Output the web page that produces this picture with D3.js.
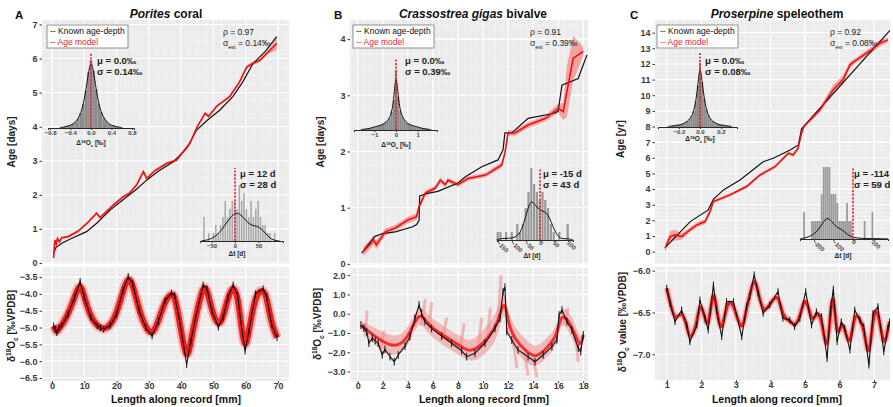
<!DOCTYPE html>
<html>
<head>
<meta charset="utf-8">
<script src="https://cdn.jsdelivr.net/npm/d3@7"></script>
<style>
  body { margin: 0; background: #fff; }
  svg { font-family: "Liberation Sans", Arial, sans-serif; }
</style>
</head>
<body>
<div id="app"></div>
<script>
'use strict'

// ---- Panel A: Porites coral ----
const aKnown = [[0.5,0.28],[1.2,0.45],[3,0.58],[6,0.72],[10.7,0.92],[14,1.18],[18,1.55],[22.6,1.9],[26,2.15],[29.3,2.43],[33,2.7],[37.6,2.97],[41.7,3.36],[44.8,3.9],[48,4.18],[52,4.49],[56,4.88],[59,5.3],[62.3,5.86],[66,6.2],[69.6,6.64]]
const aModel = [[0.5,0.15,0.1],[0.7,0.45,0.1],[0.9,0.67,0.08],[1.3,0.55,0.06],[1.7,0.72,0.05],[2.3,0.62,0.05],[3,0.74,0.04],[5,0.77,0.04],[8,0.93,0.04],[11,1.18,0.04],[13.8,1.46,0.04],[14.9,1.33,0.04],[17,1.52,0.04],[19,1.7,0.04],[22,1.94,0.04],[24,2.05,0.04],[26.2,2.29,0.04],[28.3,2.68,0.04],[29.3,2.48,0.04],[32,2.72,0.04],[35.5,2.92,0.04],[38.6,3.02,0.04],[42.7,3.51,0.04],[45,4.0,0.04],[47.4,4.39,0.05],[48.5,4.3,0.05],[51,4.6,0.04],[55,4.88,0.04],[58,5.3,0.04],[60.3,5.75,0.05],[62,5.85,0.05],[64.4,5.95,0.05],[67,6.2,0.06],[69.6,6.44,0.2]]
const aD18O = [[0.5,-4.95],[1,-5.05],[1.5,-5.15],[2.2,-5.0],[3,-4.95],[5,-4.6],[7,-4.1],[8.7,-3.63],[10,-4.1],[12,-4.7],[14,-4.95],[15,-5.0],[16,-5.05],[18,-4.95],[20,-4.6],[22,-3.9],[23.6,-3.48],[25,-3.7],[27,-4.5],[29,-5.0],[31,-5.25],[33,-4.8],[35,-4.2],[37,-3.98],[38,-4.05],[39.5,-4.8],[41.7,-6.1],[43,-5.4],[44.5,-4.7],[46.8,-3.73],[48,-3.85],[49.5,-4.5],[51.5,-4.99],[53,-4.7],[54.5,-4.1],[56.1,-3.73],[57.5,-4.05],[58.7,-5.0],[59.8,-5.7],[61,-5.1],[63,-4.0],[65.4,-3.85],[66.5,-4.1],[68,-4.9],[69.7,-5.3]]
const aResid = [[-0.6,1],[-0.55,1],[-0.5,2],[-0.45,3],[-0.4,4],[-0.35,6],[-0.3,9],[-0.25,14],[-0.2,22],[-0.15,35],[-0.1,55],[-0.05,82],[0,100],[0.05,84],[0.1,57],[0.15,36],[0.2,23],[0.25,15],[0.3,10],[0.35,6],[0.4,4],[0.45,3],[0.5,2],[0.55,1],[0.6,1]]
const aDt = [[-65,3],[-55,1],[-45,1],[-40,2],[-35,1],[-30,2],[-25,3],[-20,5],[-15,3],[-10,4],[-5,5],[0,5],[5,4],[10,7],[15,5],[20,6],[25,4],[30,3],[35,5],[40,3],[45,4],[50,5],[55,3],[60,2],[65,2],[70,1],[75,1],[85,1]]
const aDtDens = [[-72,0],[-60,0.1],[-45,0.4],[-30,1.2],[-15,2.6],[0,3.6],[10,3.4],[20,2.8],[30,2.1],[40,1.9],[50,1.8],[60,1.3],[70,0.6],[80,0.1],[95,0]]

// ---- Panel B: Crassostrea gigas bivalve ----
const bKnown = [[0.32,0.19],[0.8,0.33],[1.38,0.49],[2,0.54],[3,0.57],[4.4,0.66],[4.7,0.7],[4.9,0.77],[4.95,1.21],[5.5,1.25],[6.4,1.29],[8,1.44],[8.6,1.55],[9.9,1.73],[11.2,1.85],[11.6,2.03],[11.75,2.33],[12.3,2.33],[13.6,2.59],[15.7,2.68],[16.0,2.72],[16.3,3.18],[17.6,3.3],[17.9,3.48],[18.3,3.72]]
const bModel = [[0.45,0.22,0.08],[1.0,0.35,0.08],[1.25,0.43,0.08],[1.5,0.34,0.08],[2.2,0.57,0.06],[3,0.64,0.05],[4,0.78,0.06],[4.7,0.84,0.06],[4.9,1.02,0.05],[5.4,1.26,0.05],[6.2,1.35,0.04],[6.6,1.49,0.05],[7,1.41,0.04],[7.2,1.49,0.04],[8,1.41,0.04],[8.8,1.52,0.04],[10.2,1.58,0.04],[11.5,1.76,0.05],[11.75,1.97,0.05],[12,2.33,0.05],[12.55,2.33,0.05],[13.6,2.47,0.05],[15,2.59,0.05],[16,2.77,0.08],[16.4,2.71,0.15],[16.7,3.07,0.45],[17.2,3.66,0.4],[18,3.78,0.08]]
const bD18O = [[0.26,-0.59],[0.5,-0.75],[0.72,-0.93],[0.9,-1.53],[1.17,-1.27],[1.4,-1.4],[1.64,-1.53],[1.96,-2.14],[2.18,-1.85],[2.58,-2.23],[2.92,-2.49],[3.24,-2.14],[3.78,-1.67],[4.17,-1.19],[4.57,-0.24],[4.9,0.45],[5.1,0.02],[5.37,-0.41],[5.9,-0.76],[6.7,-1.16],[7.5,-1.53],[8.3,-1.92],[8.7,-2.23],[9.36,-2.05],[10.16,-1.53],[10.96,-0.76],[11.36,-0.24],[11.6,1.14],[11.75,1.37],[11.9,-0.93],[12.3,-1.36],[12.8,-1.88],[13.6,-2.23],[14.15,-2.49],[14.8,-2.14],[15.5,-1.71],[15.9,-1.36],[16.07,-0.07],[16.3,0.19],[16.7,-0.41],[17.1,-0.84],[17.6,-1.79],[17.8,-1.97],[18.0,-1.1]]
const bModelD18O = [[0.3,-0.6,0.2],[1,-1.0,0.4],[2,-1.45,0.5],[3,-1.75,0.5],[4,-1.35,0.5],[4.9,0.2,0.4],[5.5,-0.5,0.5],[6.5,-1.0,0.5],[8,-1.6,0.5],[8.8,-1.95,0.5],[9.5,-1.85,0.6],[10.5,-1.2,0.7],[11.2,-0.5,0.7],[11.7,0.9,0.5],[12,-0.5,0.6],[12.5,-1.3,0.6],[13.5,-2.0,0.6],[14.2,-2.3,0.5],[15,-1.85,0.5],[15.9,-1.2,0.5],[16.2,0.0,0.4],[16.8,-0.3,0.5],[17.3,-1.0,0.6],[17.8,-1.8,0.4],[18,-1.1,0.2]]
const bStreaks = [[0.6,-1.2,0.75,0.15],[1.8,-1.9,2.1,-0.9],[5.1,-0.6,5.4,0.75],[5.7,-0.8,5.9,0.6],[6.8,-1.3,7.1,-0.2],[8.2,-1.8,8.5,-0.5],[9.6,-1.9,9.9,-0.2],[10.3,-1.5,10.6,0.3],[11.2,-0.3,11.45,2.0],[12.4,-1.3,12.7,-2.8],[13.3,-2.0,13.6,-3.2],[14.0,-2.3,14.3,-3.3],[16.5,-0.5,16.8,0.3],[17.4,-1.2,17.6,-2.5]]
const bResid = [[-1.6,1],[-1.5,1],[-1.4,2],[-1.3,2],[-1.2,3],[-1.1,4],[-1.0,5],[-0.9,6],[-0.8,7],[-0.7,8],[-0.6,10],[-0.5,12],[-0.4,15],[-0.3,20],[-0.2,30],[-0.1,50],[0,100],[0.1,55],[0.2,32],[0.3,22],[0.4,16],[0.5,12],[0.6,10],[0.7,8],[0.8,7],[0.9,6],[1.0,5],[1.1,4],[1.2,3],[1.3,2],[1.4,2],[1.5,1],[1.6,1]]
const bDt = [[-150,1],[-140,1],[-120,1],[-100,1],[-80,2],[-70,1],[-60,2],[-50,4],[-40,6],[-30,9],[-20,7],[-10,6],[0,5],[10,6],[20,5],[30,4],[40,2],[50,1],[70,1],[100,2]]
const bDtDens = [[-155,0],[-140,0.2],[-110,0.2],[-90,0.3],[-70,0.8],[-55,2.5],[-40,4.3],[-29,5.0],[-15,4.2],[0,3.8],[15,3.5],[28,3.3],[45,1.8],[60,0.6],[77,0.1],[100,0.2],[118,0]]

// ---- Panel C: Proserpine speleothem ----
const cKnown = [[0.98,0.32],[1.31,1.07],[1.68,1.92],[2.2,2.67],[2.35,3.35],[2.64,3.95],[3.12,4.58],[3.79,5.75],[4.08,5.97],[4.57,6.5],[4.81,6.82],[4.9,7.85],[7.46,14.15]]
const cModel = [[0.95,0.22,0.2],[1.1,0.96,0.35],[1.24,1.07,0.35],[1.43,0.96,0.2],[1.67,1.39,0.15],[1.87,1.71,0.15],[2.11,1.92,0.15],[2.25,2.56,0.15],[2.35,3.2,0.1],[2.83,3.63,0.1],[3.31,4.16,0.1],[3.7,4.9,0.1],[4.13,5.43,0.1],[4.52,6.29,0.1],[4.66,6.18,0.1],[4.8,6.61,0.1],[4.9,7.57,0.1],[4.97,8.0,0.1],[5.43,9.06,0.15],[5.81,10.34,0.3],[6.1,10.98,0.3],[6.3,11.94,0.2],[6.49,12.26,0.15],[6.92,12.9,0.2],[7.16,13.32,0.2],[7.4,13.54,0.15]]
const cD18O = [[1.0,-6.21],[1.1,-6.39],[1.24,-6.61],[1.43,-6.47],[1.58,-6.65],[1.67,-6.85],[1.87,-6.65],[1.96,-6.35],[2.11,-6.57],[2.2,-6.71],[2.35,-6.17],[2.44,-6.47],[2.59,-6.79],[2.73,-6.37],[2.93,-6.37],[3.17,-6.79],[3.31,-6.43],[3.4,-6.31],[3.53,-6.05],[3.65,-6.27],[3.79,-6.51],[3.98,-6.41],[4.22,-6.25],[4.36,-6.57],[4.56,-6.59],[4.7,-6.67],[4.85,-6.57],[5.02,-6.25],[5.19,-6.65],[5.33,-6.49],[5.48,-6.55],[5.64,-7.05],[5.74,-6.47],[5.82,-6.22],[5.93,-6.85],[6.05,-6.61],[6.15,-6.69],[6.3,-6.95],[6.44,-6.47],[6.59,-6.59],[6.7,-6.67],[6.85,-7.13],[6.97,-6.51],[7.11,-6.43],[7.28,-6.97],[7.4,-6.69],[7.45,-6.61]]
const cResid = [[-0.3,1],[-0.28,1],[-0.26,2],[-0.24,2],[-0.22,3],[-0.2,3],[-0.18,4],[-0.16,5],[-0.14,7],[-0.12,9],[-0.1,12],[-0.08,17],[-0.06,25],[-0.04,40],[-0.02,65],[0,100],[0.02,70],[0.04,45],[0.06,28],[0.08,18],[0.1,12],[0.12,9],[0.14,7],[0.16,5],[0.18,4],[0.2,3],[0.22,3],[0.24,2],[0.26,2],[0.28,1],[0.3,1]]
const cDt = [[-250,3],[-210,2],[-200,2],[-190,2],[-180,2],[-170,2],[-160,5],[-150,8],[-140,8],[-130,8],[-120,8],[-110,5],[-100,5],[-90,5],[-80,4],[-70,2],[-60,2],[-50,2],[-40,2],[-30,4],[-20,2],[-10,2],[60,2],[100,3]]
const cDtDens = [[-272,0],[-250,0.1],[-212,0.35],[-180,0.9],[-155,1.8],[-133,2.45],[-110,2.0],[-85,1.3],[-58,1.1],[-30,0.5],[0,0.15],[50,0.05],[100,0.05],[180,0]]

// tick labels
const aXTicks = [0, 10, 20, 30, 40, 50, 60, 70]
const bXTicks = [0, 2, 4, 6, 8, 10, 12, 14, 16, 18]
const cXTicks = [1, 2, 3, 4, 5, 6, 7]
const aAgeTicks = [0, 1, 2, 3, 4, 5, 6, 7]
const bAgeTicks = [0, 1, 2, 3, 4]
const cAgeTicks = d3.range(0, 15)
const aD18OTicks = [-3.5, -4.0, -4.5, -5.0, -5.5, -6.0, -6.5]
const bD18OTicks = [2, 1, 0, -1, -2, -3]
const cD18OTicks = [-6.0, -6.5, -7.0]

const svg = d3.select('#app').append('svg')
  .attr('width', 893)
  .attr('height', 407)
const defs = svg.append('defs')
let clipCount = 0

const RED = '#ee1111'
const PINK = '#f58a8a'

/*
 * Gray ggplot-like panel with white grid, y axis and optional x axis.
 * Returns a clipped group for the marks.
 */
function frame (x, y, xTicks, yTicks, yFmt, showX) {
  const [x0, x1] = x.range()
  const [yb, yt] = y.range()
  svg.append('rect')
    .attr('x', x0).attr('y', yt)
    .attr('width', x1 - x0).attr('height', yb - yt)
    .attr('fill', '#ebebeb')

  const grid = svg.append('g')
  const xs = xTicks[1] - xTicks[0]
  const ys = Math.abs(yTicks[1] - yTicks[0])
  const xDom = x.domain(), yDom = y.domain()
  const xMinor = d3.range(xTicks[0] - xs, xTicks[xTicks.length - 1] + xs, xs / 4)
    .filter(v => v > xDom[0] && v < xDom[1])
  const yMin = Math.min(...yTicks), yMax = Math.max(...yTicks)
  const yMinor = d3.range(yMin - ys, yMax + ys, ys / 4)
    .filter(v => v > yDom[0] && v < yDom[1])
  grid.selectAll('.xm').data(xMinor).enter().append('line')
    .attr('x1', d => x(d)).attr('x2', d => x(d)).attr('y1', yt).attr('y2', yb)
    .attr('stroke', '#fff').attr('stroke-width', 0.5).attr('opacity', 0.8)
  grid.selectAll('.ym').data(yMinor).enter().append('line')
    .attr('y1', d => y(d)).attr('y2', d => y(d)).attr('x1', x0).attr('x2', x1)
    .attr('stroke', '#fff').attr('stroke-width', 0.5).attr('opacity', 0.8)
  grid.selectAll('.xM').data(xTicks).enter().append('line')
    .attr('x1', d => x(d)).attr('x2', d => x(d)).attr('y1', yt).attr('y2', yb)
    .attr('stroke', '#fff').attr('stroke-width', 1.1)
  grid.selectAll('.yM').data(yTicks).enter().append('line')
    .attr('y1', d => y(d)).attr('y2', d => y(d)).attr('x1', x0).attr('x2', x1)
    .attr('stroke', '#fff').attr('stroke-width', 1.1)

  const ya = svg.append('g')
    .attr('transform', `translate(${x0},0)`)
    .call(d3.axisLeft(y).tickValues(yTicks).tickSize(2.5).tickPadding(2).tickFormat(yFmt))
  styleAxis(ya, 9)

  if (showX) {
    const xa = svg.append('g')
      .attr('transform', `translate(0,${yb})`)
      .call(d3.axisBottom(x).tickValues(xTicks).tickSize(2).tickPadding(0).tickFormat(d3.format('d')))
    styleAxis(xa, 9)
  }

  const id = 'clip' + (clipCount++)
  defs.append('clipPath').attr('id', id).append('rect')
    .attr('x', x0).attr('y', yt).attr('width', x1 - x0).attr('height', yb - yt)
  return svg.append('g').attr('clip-path', `url(#${id})`)
}

function styleAxis (g, size) {
  g.select('.domain').remove()
  g.selectAll('.tick line').attr('stroke', '#333')
  g.selectAll('.tick text')
    .attr('fill', '#3a3a3a')
    .style('font-size', size + 'px')
    .style('font-weight', 'bold')
    .style('font-family', '"Liberation Sans", Arial, sans-serif')
}

// text helper with super/subscripts: parts = [[text, shift]] shift: 0 normal, 1 sup, -1 sub
function richText (parent, x, y, parts, opts) {
  const t = parent.append('text')
    .attr('x', x).attr('y', y)
    .attr('font-size', opts.size)
    .attr('font-weight', opts.weight || 'bold')
    .attr('fill', opts.fill || '#222')
    .attr('text-anchor', opts.anchor || 'start')
  if (opts.rotate) t.attr('transform', `rotate(-90,${x},${y})`)
  let cur = 0
  parts.forEach(([s, k, style]) => {
    const target = k === 1 ? -opts.size * 0.38 : k === -1 ? opts.size * 0.3 : 0
    const sp = t.append('tspan').text(s).attr('dy', target - cur)
    if (k !== 0) sp.attr('font-size', opts.size * 0.65)
    if (style === 'i') sp.attr('font-style', 'italic')
    cur = target
  })
  return t
}

const d18oParts = [['δ', 0], ['18', 1], ['O', 0], ['c', -1]]

function drawTop (g, x, y, known, model) {
  const band = d3.area()
    .x(d => x(d[0])).y0(d => y(d[1] - d[2])).y1(d => y(d[1] + d[2]))
  const ln = d3.line().x(d => x(d[0])).y(d => y(d[1]))
  g.append('path').datum(model).attr('d', band)
    .attr('fill', PINK).attr('opacity', 0.75)
  g.append('path').datum(known).attr('d', ln)
    .attr('fill', 'none').attr('stroke', '#111').attr('stroke-width', 1.2)
  g.append('path').datum(model).attr('d', ln)
    .attr('fill', 'none').attr('stroke', RED).attr('stroke-width', 1.6)
}

function drawSeries (g, x, y, data, err, wide, core) {
  const smooth = d3.line().x(d => x(d[0])).y(d => y(d[1])).curve(d3.curveBasis)
  const ln = d3.line().x(d => x(d[0])).y(d => y(d[1]))
  if (wide) {
    g.append('path').datum(data).attr('d', smooth)
      .attr('fill', 'none').attr('stroke', '#f5a0a0').attr('stroke-width', wide)
      .attr('stroke-linejoin', 'round').attr('opacity', 0.7)
    g.append('path').datum(data).attr('d', smooth)
      .attr('fill', 'none').attr('stroke', '#f01010').attr('stroke-width', core)
      .attr('stroke-linejoin', 'round').attr('opacity', 0.92)
  }
  g.append('path').datum(data).attr('d', ln)
    .attr('fill', 'none').attr('stroke', '#111').attr('stroke-width', 1.1)
  g.selectAll('.err').data(data).enter().append('line')
    .attr('x1', d => x(d[0])).attr('x2', d => x(d[0]))
    .attr('y1', d => y(d[1] - err)).attr('y2', d => y(d[1] + err))
    .attr('stroke', '#111').attr('stroke-width', 1)
}

function legend (x, y) {
  svg.append('rect').attr('x', x).attr('y', y).attr('width', 81).attr('height', 23)
    .attr('fill', '#fff').attr('stroke', '#777').attr('stroke-width', 0.8)
  svg.append('text').attr('x', x + 3).attr('y', y + 9).attr('font-size', 8.5)
    .attr('fill', '#111').text('-- Known age-depth')
  svg.append('text').attr('x', x + 3).attr('y', y + 20).attr('font-size', 8.5)
    .attr('fill', '#e8212e').text('-- Age model')
}

function stats (x, y, rho, sig) {
  svg.append('text').attr('x', x).attr('y', y).attr('font-size', 8.5)
    .attr('fill', '#222').text('ρ = ' + rho)
  richText(svg, x, y + 11, [['σ', 0], ['est', -1], [' = ' + sig + '‰', 0]], { size: 8.5, weight: 'normal' })
}

function muSigma (x, y, mu, sig) {
  svg.append('text').attr('x', x).attr('y', y).attr('font-size', 9.5)
    .attr('font-weight', 'bold').attr('fill', '#222').text('μ = ' + mu)
  svg.append('text').attr('x', x).attr('y', y + 11).attr('font-size', 9.5)
    .attr('font-weight', 'bold').attr('fill', '#222').text('σ = ' + sig)
}

/*
 * Histogram inset: bars, density line, dotted zero line and bottom axis.
 */
function inset (o) {
  const xi = d3.scaleLinear().domain(o.xDomain).range(o.xRange)
  const yi = d3.scaleLinear().domain([0, o.yMax]).range([o.base, o.base - o.height])
  const g = svg.append('g')
  g.selectAll('rect').data(o.bins).enter().append('rect')
    .attr('x', d => xi(d[0] - o.binW / 2))
    .attr('width', d => Math.max(0.8, xi(d[0] + o.binW / 2) - xi(d[0] - o.binW / 2) - o.gap))
    .attr('y', d => yi(d[1]))
    .attr('height', d => o.base - yi(d[1]))
    .attr('fill', o.barFill)
  g.append('path').datum(o.dens)
    .attr('d', d3.line().x(d => xi(d[0])).y(d => yi(d[1])).curve(d3.curveBasis))
    .attr('fill', 'none').attr('stroke', '#111').attr('stroke-width', 1)
  g.append('line')
    .attr('x1', xi(0)).attr('x2', xi(0)).attr('y1', o.base).attr('y2', o.lineTop)
    .attr('stroke', '#e8212e').attr('stroke-width', 1.6).attr('stroke-dasharray', '2.2,1.4')
  const ax = g.append('g').attr('transform', `translate(0,${o.base})`)
    .call(d3.axisBottom(xi).tickValues(o.ticks).tickSize(2).tickPadding(1).tickFormat(o.fmt))
  ax.select('.domain').attr('stroke', '#111').attr('stroke-width', 0.9)
  ax.selectAll('.tick line').attr('stroke', '#333')
  ax.selectAll('.tick text')
    .attr('fill', '#444').style('font-size', '6px').style('font-weight', 'bold')
    .style('font-family', '"Liberation Sans", Arial, sans-serif')
  if (o.rotate) {
    ax.selectAll('.tick text')
      .attr('transform', 'rotate(45)').attr('text-anchor', 'start')
      .attr('x', 1).attr('y', 2).attr('dy', '0.3em')
  }
  richText(svg, o.titleX, o.titleY, o.title, { size: 6.5, anchor: 'middle' })
}

// ================= Panel A =================
const aX = d3.scaleLinear().domain([-3.1, 73.4]).range([42, 289])
const aYTop = d3.scaleLinear().domain([-0.03, 7.13]).range([264, 20])
const aYBot = d3.scaleLinear().domain([-6.59, -3.2]).range([381, 267])

drawTop(frame(aX, aYTop, aXTicks, aAgeTicks, d3.format('d'), false), aX, aYTop, aKnown, aModel)
drawSeries(frame(aX, aYBot, aXTicks, aD18OTicks, d3.format('.1f'), true), aX, aYBot, aD18O, 0.1, 10, 6)

// ================= Panel B =================
const bX = d3.scaleLinear().domain([-0.61, 18.38]).range([350, 588])
const bYTop = d3.scaleLinear().domain([-0.02, 4.34]).range([265, 20])
const bYBot = d3.scaleLinear().domain([-3.49, 2.37]).range([381, 268])

drawTop(frame(bX, bYTop, bXTicks, bAgeTicks, d3.format('d'), false), bX, bYTop, bKnown, bModel)
const bBot = frame(bX, bYBot, bXTicks, bD18OTicks, d3.format('.1f'), true)
bBot.append('path').datum(bModelD18O)
  .attr('d', d3.area().x(d => bX(d[0])).y0(d => bYBot(d[1] - d[2])).y1(d => bYBot(d[1] + d[2])).curve(d3.curveBasis))
  .attr('fill', '#f4a0a0').attr('opacity', 0.7)
bBot.selectAll('.streak').data(bStreaks).enter().append('line')
  .attr('x1', d => bX(d[0])).attr('y1', d => bYBot(d[1]))
  .attr('x2', d => bX(d[2])).attr('y2', d => bYBot(d[3]))
  .attr('stroke', '#f28f8f').attr('stroke-width', 3).attr('opacity', 0.6)
bBot.append('path').datum(bModelD18O)
  .attr('d', d3.line().x(d => bX(d[0])).y(d => bYBot(d[1])).curve(d3.curveBasis))
  .attr('fill', 'none').attr('stroke', '#f01818').attr('stroke-width', 3).attr('opacity', 0.85)
drawSeries(bBot, bX, bYBot, bD18O, 0.2, 0, 0)

// ================= Panel C =================
const cX = d3.scaleLinear().domain([0.66, 7.46]).range([655, 890])
const cYTop = d3.scaleLinear().domain([-0.79, 14.81]).range([264, 20])
const cYBot = d3.scaleLinear().domain([-7.307, -5.956]).range([380, 267])

drawTop(frame(cX, cYTop, cXTicks, cAgeTicks, d3.format('d'), false), cX, cYTop, cKnown, cModel)
drawSeries(frame(cX, cYBot, cXTicks, cD18OTicks, d3.format('.1f'), true), cX, cYBot, cD18O, 0.04, 6, 3)

// ================= Insets =================
const resTitle = [['Δ', 0], ['18', 1], ['O', 0], ['c', -1], [' [‰]', 0]]
const dtTitle = [['Δt [d]', 0]]

inset({ bins: aResid, dens: aResid, binW: 0.05, gap: 0, barFill: '#8a8a8a',
  xDomain: [-0.84, 0.84], xRange: [48, 134], yMax: 100, base: 128, height: 68, lineTop: 53,
  ticks: [-0.8, -0.4, 0, 0.4, 0.8], fmt: d3.format('.1f'), titleX: 91, titleY: 145, title: resTitle })
inset({ bins: aDt, dens: aDtDens, binW: 5, gap: 0.8, barFill: '#a9a9a9',
  xDomain: [-74.5, 102], xRange: [200, 283], yMax: 7, base: 241, height: 56, lineTop: 168,
  ticks: [-50, 0, 50], fmt: d3.format('d'), titleX: 237, titleY: 256, title: dtTitle })

inset({ bins: bResid, dens: bResid, binW: 0.1, gap: 0, barFill: '#8a8a8a',
  xDomain: [-1.944, 1.898], xRange: [354, 437], yMax: 100, base: 130, height: 60, lineTop: 58,
  ticks: [-1, 0, 1], fmt: d3.format('d'), titleX: 396, titleY: 147, title: resTitle })
inset({ bins: bDt, dens: bDtDens, binW: 10, gap: 0.6, barFill: '#999',
  xDomain: [-153.6, 117.9], xRange: [497, 573], yMax: 9, base: 240, height: 72, lineTop: 168,
  ticks: [-150, -100, -50, 0, 50, 100], fmt: d3.format('d'), rotate: true, titleX: 532, titleY: 258, title: dtTitle })

inset({ bins: cResid, dens: cResid, binW: 0.02, gap: 0, barFill: '#8a8a8a',
  xDomain: [-0.4, 0.352], xRange: [658, 737], yMax: 100, base: 127, height: 64, lineTop: 53,
  ticks: [-0.2, 0, 0.2], fmt: d3.format('.1f'), titleX: 700, titleY: 141, title: resTitle })
inset({ bins: cDt, dens: cDtDens, binW: 10, gap: 0.2, barFill: '#999',
  xDomain: [-271.8, 179.5], xRange: [800, 888], yMax: 8, base: 239, height: 72, lineTop: 168,
  ticks: [-200, -100, 0, 100], fmt: d3.format('d'), rotate: true, titleX: 843, titleY: 258, title: dtTitle })

// ================= Texts =================
legend(47, 25)
legend(353, 25)
legend(657, 25)
stats(223, 35, '0.97', '0.14')
stats(530, 35, '0.91', '0.39')
stats(830, 35, '0.92', '0.08')
muSigma(97, 64, '0.0‰', '0.14‰')
muSigma(240, 177, '12 d', '28 d')
muSigma(405, 64, '0.0‰', '0.39‰')
muSigma(543, 177, '-15 d', '43 d')
muSigma(705, 64, '0.0‰', '0.08‰')
muSigma(854, 177, '-114', '59 d')

// panel letters and titles
;[['A', 15], ['B', 334], ['C', 630]].forEach(([l, x]) => {
  svg.append('text').attr('x', x).attr('y', 19).attr('font-size', 11.5)
    .attr('font-weight', 'bold').attr('fill', '#111').text(l)
})
richText(svg, 166, 18, [['Porites', 0, 'i'], [' coral', 0]], { size: 12, anchor: 'middle', fill: '#111' })
richText(svg, 473, 18, [['Crassostrea gigas', 0, 'i'], [' bivalve', 0]], { size: 12, anchor: 'middle', fill: '#111' })
richText(svg, 777, 18, [['Proserpine', 0, 'i'], [' speleothem', 0]], { size: 12, anchor: 'middle', fill: '#111' })

// axis titles
richText(svg, 15, 142, [['Age [days]', 0]], { size: 10, anchor: 'middle', rotate: true })
richText(svg, 324, 142, [['Age [days]', 0]], { size: 10, anchor: 'middle', rotate: true })
richText(svg, 624, 139, [['Age [yr]', 0]], { size: 10, anchor: 'middle', rotate: true })
richText(svg, 15, 326, d18oParts.concat([[' [‰VPDB]', 0]]), { size: 10, anchor: 'middle', rotate: true })
richText(svg, 321, 324, d18oParts.concat([[' [‰VPDB]', 0]]), { size: 10, anchor: 'middle', rotate: true })
richText(svg, 626, 322, d18oParts.concat([[' value [‰VPDB]', 0]]), { size: 10, anchor: 'middle', rotate: true })
;[176, 484, 777].forEach(x => {
  svg.append('text').attr('x', x).attr('y', 403).attr('text-anchor', 'middle')
    .attr('font-size', 10.5).attr('font-weight', 'bold').attr('fill', '#111')
    .text('Length along record [mm]')
})
</script>
</body>
</html>
